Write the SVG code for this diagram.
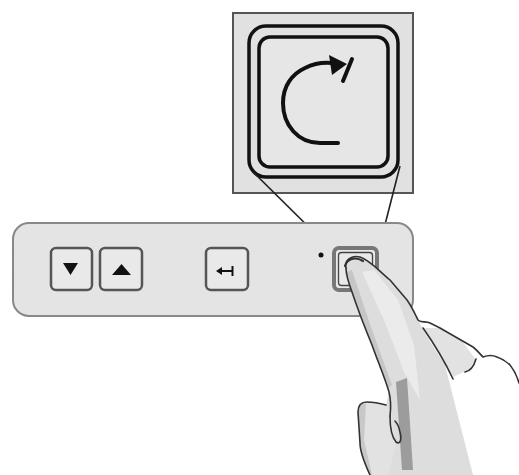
<svg xmlns="http://www.w3.org/2000/svg" width="519" height="475" viewBox="0 0 519 475">
  <style>
    .key { fill: #e9e9e9; stroke: #555; stroke-width: 2.5; }
    .glyph { fill: #111; }
    .wire { stroke: #222; stroke-width: 1.6; fill: none; }
    .skin { stroke: #333; stroke-width: 1.6; fill: none; stroke-linejoin: round; stroke-linecap: round; }
  </style>
  <defs>
    <path id="handShape" d="M 346 268 C 344 260 352 255 360 257 C 370 260 380 272 390 280 L 407 300 C 412 307 415 314 418 320 C 421 323 426 321 430 323 L 440 328 L 473 347 C 477 350 480 354 483 357 C 488 355 493 355 497 357 C 503 359 507 362 510 365 C 514 370 517 376 519 383 L 519 475 L 370 475 C 364 462 360 452 360 443 L 358 412 C 358 405 362 402 367 402 C 373 402 379 403 386 405 L 389 392 C 385 378 378 362 372 345 C 365 328 358 310 352 292 C 349 284 346 276 346 268 Z"/>
    <clipPath id="handClip">
      <use href="#handShape"/>
    </clipPath>
  </defs>

  <rect width="519" height="475" fill="#fff"/>

  <!-- enlarged view of the key -->
  <g id="zoom-view">
    <rect x="233" y="13" width="180" height="180" fill="#e1e1e1" stroke="#555" stroke-width="2"/>
    <rect x="249" y="26" width="149" height="151" rx="17" fill="none" stroke="#111" stroke-width="3.5"/>
    <rect x="259" y="37" width="129" height="130" rx="11" fill="#e6e6e6" stroke="#111" stroke-width="3.5"/>
    <path d="M 338 143 L 320 143 C 298 143 283 125 283 103 C 283 86 292 74 305 68 C 313 64 322 62 332 63" fill="none" stroke="#111" stroke-width="4" stroke-linecap="round"/>
    <polygon class="glyph" points="329,55 347,64 332,75"/>
    <line x1="352" y1="59" x2="343" y2="81" stroke="#111" stroke-width="4" stroke-linecap="round"/>
  </g>

  <!-- leader lines -->
  <g id="connectors">
    <line class="wire" x1="253" y1="172" x2="333" y2="251"/>
    <line class="wire" x1="400" y1="166" x2="378" y2="252"/>
  </g>

  <!-- control panel -->
  <g id="panel">
    <rect x="13" y="223" width="400" height="93" rx="16" fill="#e4e4e4" stroke="#888" stroke-width="2"/>
    <circle cx="321" cy="255" r="2.5" fill="#111"/>
  </g>

  <g id="key-down">
    <rect class="key" x="51" y="248" width="41" height="42" rx="5"/>
    <polygon class="glyph" points="63,263 78,263 70.5,275"/>
  </g>

  <g id="key-up">
    <rect class="key" x="100" y="248" width="42" height="42" rx="5"/>
    <polygon class="glyph" points="112,275 131,275 121.5,264"/>
  </g>

  <g id="key-enter">
    <rect class="key" x="206" y="248" width="42" height="42" rx="5"/>
    <polygon class="glyph" points="216,271 222,267 222,275"/>
    <line x1="221" y1="271" x2="232" y2="271" stroke="#111" stroke-width="2"/>
    <line x1="232.5" y1="266" x2="232.5" y2="276" stroke="#111" stroke-width="2"/>
  </g>

  <g id="key-rotate">
    <rect x="334" y="248" width="43" height="42" rx="5" fill="#e9e9e9" stroke="#777" stroke-width="4"/>
    <rect x="338.5" y="252.5" width="34" height="33" rx="3" fill="none" stroke="#444" stroke-width="1.3"/>
  </g>

  <!-- hand pressing the key -->
  <g id="hand">
    <use href="#handShape" fill="#fff"/>
    <g clip-path="url(#handClip)">
      <!-- finger and lower palm shade -->
      <polygon points="340,255 370,255 395,282 412,305 423,330 445,365 473,475 360,475 340,400" fill="#dddddd"/>
      <!-- soft highlight down the finger -->
      <polygon points="362,272 374,270 398,300 414,345 420,400 404,372 384,320" fill="#ebebeb"/>
      <!-- shade along the lower finger edge -->
      <polygon points="346,272 352,270 372,330 392,385 386,390 366,340" fill="#c6c6c6"/>
      <!-- crease area at the knuckles -->
      <polygon points="423,328 453,377 468,370 476,360 460,338 440,328" fill="#e2e2e2"/>
      <!-- shadow between finger and thumb -->
      <polygon points="396,382 407,378 413,470 402,470" fill="#9c9c9c"/>
      <!-- thumb -->
      <polygon points="358,402 387,405 392,420 396,445 388,475 360,475" fill="#e2e2e2"/>
      <polygon points="358,404 366,404 364,440 372,475 362,475" fill="#c8c8c8"/>
    </g>
    <path class="skin" d="M 346 268 C 344 260 352 255 360 257 C 370 260 380 272 390 280 L 407 300 C 412 307 415 314 418 320 C 421 323 426 321 430 323 L 440 328 L 473 347 C 477 350 480 354 483 357 C 488 355 493 355 497 357 C 503 359 507 362 510 365 C 514 370 517 376 519 383"/>
    <path class="skin" d="M 370 475 C 364 462 360 452 360 443 L 358 412 C 358 405 362 402 367 402 C 373 402 379 403 386 405"/>
    <path class="skin" d="M 346 268 C 346 276 349 284 352 292 C 358 310 365 328 372 345 C 378 362 385 378 389 392 C 391 400 391 408 390 416"/>
    <path class="skin" d="M 390 416 C 390 426 391 436 396 442 C 400 445 402 440 400 432 C 399 427 397 423 395 421"/>
    <path class="skin" d="M 423 328 C 435 345 445 362 453 379"/>
    <path class="skin" d="M 476 359 C 474 366 470 371 465 372"/>
    <path d="M 345 266 C 347 259 355 256 363 261" fill="none" stroke="#333" stroke-width="2.2" stroke-linecap="round"/>
  </g>
</svg>
